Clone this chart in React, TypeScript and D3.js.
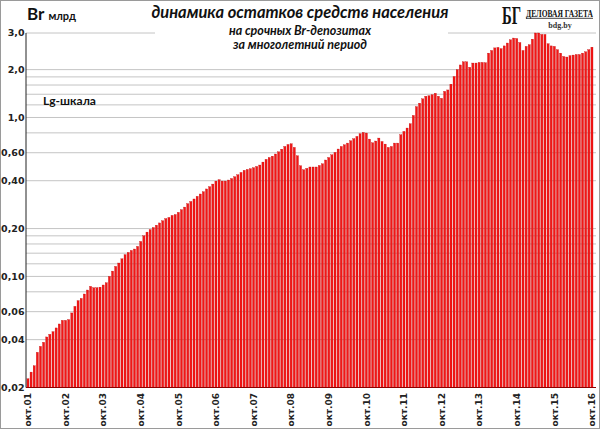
import React from "react";
import * as d3 from "d3";

// Monthly balances, Br bn, okt.01 .. okt.16 (181 months)
const values: number[] = [
  0.0227, 0.025, 0.0274, 0.0333, 0.0363, 0.0385, 0.0416, 0.0432, 0.0449, 0.0474, 0.0502, 0.0529,
  0.0529, 0.0535, 0.0589, 0.0648, 0.0704, 0.0727, 0.0775, 0.0821, 0.0866, 0.0849, 0.0849, 0.0856,
  0.0883, 0.0912, 0.1, 0.108, 0.1156, 0.1214, 0.129, 0.137, 0.1416, 0.1457, 0.1487, 0.1545,
  0.166, 0.18, 0.19, 0.197, 0.203, 0.21, 0.217, 0.224, 0.231, 0.235, 0.242, 0.245,
  0.253, 0.263, 0.273, 0.287, 0.296, 0.307, 0.319, 0.33, 0.341, 0.355, 0.367, 0.381,
  0.398, 0.406, 0.398, 0.398, 0.404, 0.413, 0.424, 0.436, 0.451, 0.465, 0.471, 0.476,
  0.483, 0.492, 0.502, 0.524, 0.545, 0.56, 0.571, 0.589, 0.608, 0.632, 0.657, 0.676,
  0.683, 0.648, 0.574, 0.497, 0.469, 0.478, 0.488, 0.488, 0.488, 0.499, 0.511, 0.54,
  0.56, 0.582, 0.603, 0.633, 0.657, 0.673, 0.69, 0.714, 0.735, 0.76, 0.79, 0.805,
  0.798, 0.731, 0.693, 0.711, 0.742, 0.706, 0.68, 0.648, 0.657, 0.69, 0.69, 0.778,
  0.817, 0.858, 0.913, 1.03, 1.17, 1.23, 1.31, 1.36, 1.37, 1.39, 1.42, 1.36,
  1.32, 1.46, 1.49, 1.62, 1.81, 2.0, 2.14, 2.24, 2.24, 2.07, 2.2, 2.2,
  2.22, 2.22, 2.21, 2.54, 2.64, 2.74, 2.76, 2.71, 2.82, 2.94, 3.08, 3.16,
  3.14, 2.96, 2.64, 2.8, 2.87, 3.11, 3.4, 3.4, 3.33, 3.33, 2.91, 2.82,
  2.8, 2.67, 2.54, 2.42, 2.4, 2.45, 2.47, 2.49, 2.49, 2.54, 2.59, 2.67,
  2.77,
];

const xTickLabels: string[] = [
  "окт.01", "окт.02", "окт.03", "окт.04", "окт.05", "окт.06", "окт.07", "окт.08",
  "окт.09", "окт.10", "окт.11", "окт.12", "окт.13", "окт.14", "окт.15", "окт.16",
];

const yTickValues: number[] = [0.02, 0.04, 0.06, 0.1, 0.2, 0.4, 0.6, 1, 2, 3.4];
const yTickLabels: string[] = ["0,02", "0,04", "0,06", "0,10", "0,20", "0,40", "0,60", "1,0", "2,0", "3,0"];
const gridValues: number[] = [
  0.04, 0.06, 0.08, 0.1, 0.12, 0.14, 0.16, 0.18, 0.2, 0.4, 0.6, 0.8, 1, 1.2, 1.4, 1.6, 1.8, 2, 3.4,
];

const W = 600;
const H = 429;

export default function App() {
  const y = d3.scaleLog().domain([0.02, 3.4]).range([387.5, 33]);
  const x = d3
    .scaleBand<number>()
    .domain(d3.range(values.length))
    .range([26.4, 593.5])
    .paddingInner(0.33)
    .paddingOuter(0.16);
  const left = 26;
  const right = 596;
  const base = y(0.02);

  return (
    <svg
      width={W}
      height={H}
      style={{ position: "absolute", left: 0, top: 0, background: "#fff" }}
    >
      <rect x={0} y={0} width={W} height={H} fill="#fff" />
      {/* grid */}
      {gridValues.map((v, k) => (
        <line key={k} x1={left} x2={right} y1={y(v)} y2={y(v)} stroke="#c4c4c4" strokeWidth={1} />
      ))}
      {/* bars */}
      {values.map((v, i) => (
        <rect
          key={i}
          x={x(i)}
          y={y(v)}
          width={x.bandwidth()}
          height={base - y(v)}
          fill="#f21616"
          stroke="#c00000"
          strokeWidth={0.3}
        />
      ))}
      {/* axes */}
      <line x1={left} x2={left} y1={33} y2={base} stroke="#222" strokeWidth={1} />
      <line x1={left} x2={right} y1={base} y2={base} stroke="#8a0000" strokeWidth={1.2} />
      {yTickValues.map((v, k) => (
        <text
          key={k}
          x={24.5}
          y={y(v)}
          dy="0.36em"
          textAnchor="end"
          fontFamily="DejaVu Sans"
          fontWeight="bold"
          fontSize={9.5}
          fill="#222"
        >
          {yTickLabels[k]}
        </text>
      ))}
      {xTickLabels.map((t, k) => {
        const cx = (x(k * 12) as number) + x.bandwidth() / 2;
        return (
          <text
            key={k}
            transform={`translate(${cx},393) rotate(-90)`}
            dy="0.35em"
            textAnchor="end"
            fontFamily="DejaVu Sans"
            fontWeight="bold"
            fontSize={9}
            fill="#222"
          >
            {t}
          </text>
        );
      })}
      {/* title mask */}
      <rect x={155} y={0} width={293} height={56} fill="#fff" />
      <text
        x={300}
        y={18}
        textAnchor="middle"
        fontFamily="Lato"
        fontWeight="bold"
        fontStyle="italic"
        fontSize={16.5}
        fill="#111"
      >
        динамика остатков средств населения
      </text>
      <text
        x={300}
        y={35}
        textAnchor="middle"
        fontFamily="Lato"
        fontWeight="bold"
        fontStyle="italic"
        fontSize={12.5}
        fill="#111"
      >
        на срочных Br-депозитах
      </text>
      <text
        x={300}
        y={48.5}
        textAnchor="middle"
        fontFamily="Lato"
        fontWeight="bold"
        fontStyle="italic"
        fontSize={12.5}
        fill="#111"
      >
        за многолетний период
      </text>
      {/* unit label */}
      <text x={27} y={20} fontFamily="Lato" fontWeight="bold" fill="#111">
        <tspan fontSize={17}>Br</tspan>
        <tspan fontSize={11} dx={4}>млрд</tspan>
      </text>
      <text x={43} y={105} fontFamily="Lato" fontWeight="bold" fontSize={12} fill="#111">
        Lg-шкала
      </text>
      {/* logo */}
      <g>
        <rect x={500} y={1} width={98} height={29} fill="#fff" />
        <text x={502} y={24} fontFamily="Liberation Serif" fontWeight="bold" fontSize={26} fill="#111" textLength={19} lengthAdjust="spacingAndGlyphs">
          БГ
        </text>
        <text x={526} y={16.5} fontFamily="Liberation Serif" fontWeight="bold" fontSize={10.5} fill="#111" textLength={67} lengthAdjust="spacingAndGlyphs">
          ДЕЛОВАЯ ГАЗЕТА
        </text>
        <line x1={526} x2={593} y1={18.3} y2={18.3} stroke="#111" strokeWidth={0.8} />
        <text x={560} y={27.5} textAnchor="middle" fontFamily="Liberation Serif" fontWeight="bold" fontSize={8} fill="#333">
          bdg.by
        </text>
      </g>
      {/* frame */}
      <rect x={0.5} y={0.5} width={W - 1} height={H - 1} fill="none" stroke="#9a9a9a" strokeWidth={1} />
    </svg>
  );
}
